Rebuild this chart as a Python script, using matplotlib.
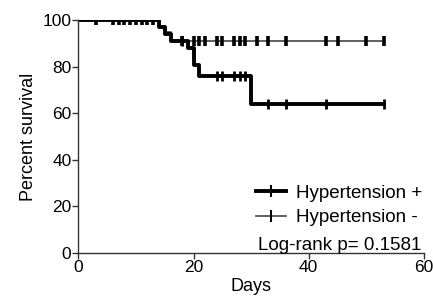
import numpy as np
import matplotlib
matplotlib.use("Agg")
import matplotlib.pyplot as plt

plt.rcParams['font.family'] = ['Liberation Sans', 'DejaVu Sans']

# Kaplan-Meier steps (day, percent surviving after that day)
plus_times = [0, 14, 15, 16, 19, 20, 21, 30, 53]
plus_surv = [100, 97, 94, 91, 88, 80.5, 76, 64, 64]
plus_censor = [18, 24, 25, 27, 28, 29, 33, 36, 43, 53]

minus_times = [0, 14, 15, 16, 53]
minus_surv = [100, 97.5, 95, 91, 91]
minus_censor = [3, 6, 7, 8, 9, 10, 11, 12, 13, 18, 20, 21, 22, 24, 25, 27, 28,
                29, 31, 33, 36, 43, 45, 50, 53]

p_text = "Log-rank p= 0.1581"


def surv_at(times, surv, t):
    idx = np.searchsorted(times, t, side='right') - 1
    return np.asarray(surv)[idx]


fig = plt.figure(figsize=(4.33, 3.04), dpi=100)
ax = fig.add_axes([0.181, 0.168, 0.798, 0.766])

# Hypertension - (thin)
ax.step(minus_times, minus_surv, where='post', color='#555555', lw=1.3)
ax.plot(minus_censor, surv_at(minus_times, minus_surv, minus_censor),
        ls='none', marker='|', ms=7, mew=2.6, color='black')

# Hypertension + (thick)
ax.step(plus_times, plus_surv, where='post', color='black', lw=2.8)
ax.plot(plus_censor, surv_at(plus_times, plus_surv, plus_censor),
        ls='none', marker='|', ms=7, mew=2.0, color='black')

# legend handles
h_plus, = ax.plot([], [], color='black', lw=2.8, marker='|', ms=8, mew=1.5)
h_minus, = ax.plot([], [], color='#555555', lw=1.3, marker='|', ms=8, mew=1.5,
                   mec='black')
leg = ax.legend([h_plus, h_minus], ["Hypertension +", "Hypertension -"],
                loc='center left', bbox_to_anchor=(0.515, 0.204), frameon=False,
                fontsize=13.5, handlelength=1.6, handletextpad=0.5,
                labelspacing=0.4, borderaxespad=0, borderpad=0)
ax.text(0.52, 0.034, p_text, transform=ax.transAxes, fontsize=13.5,
        ha='left', va='center')

ax.set_xlim(0, 60)
ax.set_ylim(0, 100)
ax.set_xticks([0, 20, 40, 60])
ax.set_yticks([0, 20, 40, 60, 80, 100])
ax.spines['top'].set_visible(False)
ax.spines['right'].set_visible(False)
for s in ('left', 'bottom'):
    ax.spines[s].set_linewidth(1.0)
    ax.spines[s].set_color('#333333')
ax.tick_params(direction='out', length=4, width=1, labelsize=12.5, pad=1,
               color='#333333')
ax.set_xlabel("Days", fontsize=13, labelpad=2)
ax.set_ylabel("Percent survival", fontsize=13, labelpad=4)

fig.savefig("out.png", dpi=100)
